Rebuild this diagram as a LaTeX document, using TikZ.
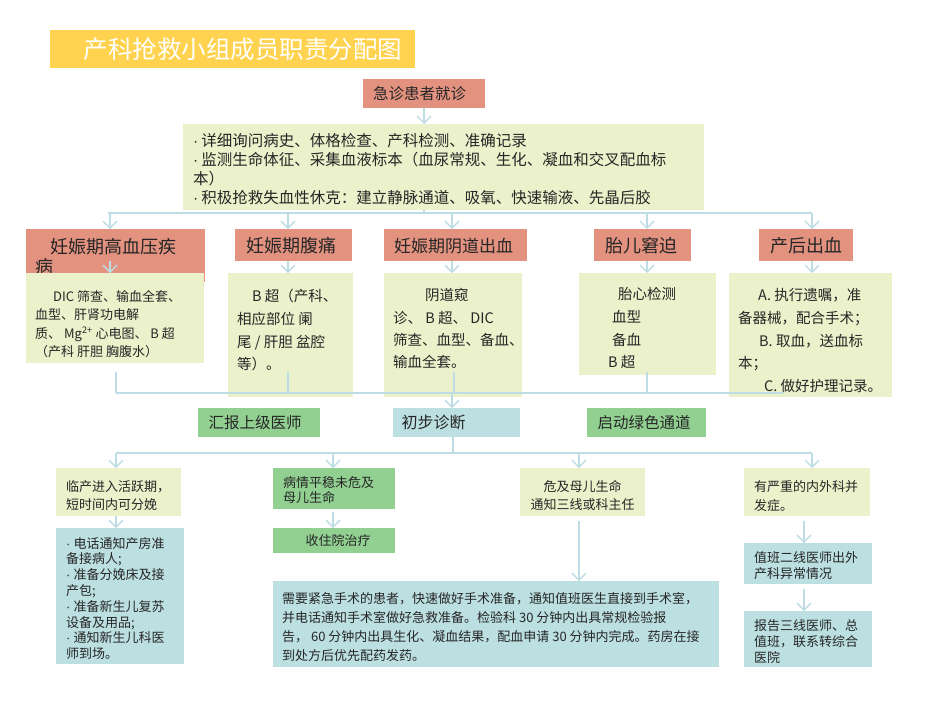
\documentclass[tikz,border=0pt]{standalone}
\usepackage{fontspec}
\setmainfont{Noto Sans CJK SC}
\newfontfamily\latinf{Liberation Sans}
\newcommand{\bul}{{\latinf ·}\hspace{3pt}}
\usetikzlibrary{arrows.meta}
\definecolor{salmonC}{RGB}{227,146,128}
\definecolor{gyC}{RGB}{235,241,202}
\definecolor{grC}{RGB}{146,208,146}
\definecolor{lbC}{RGB}{188,223,226}
\definecolor{lineC}{RGB}{190,220,227}
\definecolor{titleC}{RGB}{255,211,79}
\definecolor{txtC}{RGB}{38,38,38}
\begin{document}
\begin{tikzpicture}[x=1pt,y=-1pt,
  bx/.style={anchor=north west, inner sep=0pt, outer sep=0pt, draw=none},
  salm/.style={bx, fill=salmonC},
  gy/.style={bx, fill=gyC},
  gr/.style={bx, fill=grC},
  lb/.style={bx, fill=lbC},
  tx/.style={anchor=north west, inner sep=0pt, align=left, text=txtC},
  ctx/.style={anchor=center, inner sep=0pt, text=txtC},
  conn/.style={draw=lineC, line width=1.3pt},
  arr/.style={conn, -{Straight Barb[length=7pt,width=14pt,line width=1.3pt]}}
]
\useasboundingbox[fill=white] (0,0) rectangle (950,713);

% title
\node[bx, fill=titleC, minimum width=365pt, minimum height=38pt] (title) at (50,30) {};
\node[ctx, text=white, font=\fontsize{24.5}{28}\selectfont] (titlet) at (243,49) {产科抢救小组成员职责分配图};

% emergency
\node[salm, minimum width=122pt, minimum height=29pt] (er) at (363,79) {};
\node[ctx, font=\fontsize{15.5}{18}\selectfont] (ert) at (419.5,94) {急诊患者就诊};

% top instructions
\node[gy, minimum width=521pt, minimum height=86pt] (top) at (183,124) {};
\node[tx, font=\fontsize{15.5}{19.3}\selectfont] (topt) at (193,132.7) {%
\bul 详细询问病史、体格检查、产科检测、准确记录\\
\bul 监测生命体征、采集血液标本（血尿常规、生化、凝血和交叉配血标\\
本）\\
\bul 积极抢救失血性休克：建立静脉通道、吸氧、快速输液、先晶后胶};

% categories
\node[salm, minimum width=179pt, minimum height=53pt] (cat1) at (26,229) {};
\node[tx, font=\fontsize{18}{19.5}\selectfont] (cat1t) at (35,238.5) {\hspace*{15pt}妊娠期高血压疾\\病};
\node[salm, minimum width=117pt, minimum height=32pt] (cat2) at (235,229) {};
\node[ctx, font=\fontsize{18}{21}\selectfont] (cat2t) at (291,246) {妊娠期腹痛};
\node[salm, minimum width=143pt, minimum height=32pt] (cat3) at (384,229) {};
\node[ctx, font=\fontsize{17}{20}\selectfont] (cat3t) at (453.5,246) {妊娠期阴道出血};
\node[salm, minimum width=97pt, minimum height=32pt] (cat4) at (594,229) {};
\node[ctx, font=\fontsize{18}{21}\selectfont] (cat4t) at (641,246) {胎儿窘迫};
\node[salm, minimum width=94pt, minimum height=32pt] (cat5) at (759,229) {};
\node[ctx, font=\fontsize{18}{21}\selectfont] (cat5t) at (806,246) {产后出血};

% details
\node[gy, minimum width=178pt, minimum height=90pt] (det1) at (26,273) {};
\node[tx, font=\fontsize{13}{18.5}\selectfont] (det1t) at (35,289.8) {%
\hspace*{18pt}DIC 筛查、输血全套、\\
血型、肝肾功电解\\
质、 Mg\textsuperscript{2+} 心电图、 B 超\\
（产科 肝胆 胸腹水）};
\node[gy, minimum width=125pt, minimum height=124pt] (det2) at (228,273) {};
\node[tx, font=\fontsize{14.5}{22.6}\selectfont] (det2t) at (237,289.2) {%
\hspace*{15pt}B 超（产科、\\
相应部位 阑\\
尾 / 肝胆 盆腔\\
等）。};
\node[gy, minimum width=138pt, minimum height=124pt] (det3) at (384,273) {};
\node[tx, font=\fontsize{14.5}{22.4}\selectfont] (det3t) at (393,288.2) {%
\hspace*{32pt}阴道窥\\
诊、 B 超、 DIC\\
筛查、血型、备血、\\
输血全套。};
\node[gy, minimum width=137pt, minimum height=102pt] (det4) at (579,273) {};
\node[tx, font=\fontsize{14.5}{22.7}\selectfont] (det4t) at (608,287.2) {%
\hspace*{10pt}胎心检测\\
\hspace*{4pt}血型\\
\hspace*{4pt}备血\\
B 超};
\node[gy, minimum width=163pt, minimum height=124pt] (det5) at (729,273) {};
\node[tx, font=\fontsize{14.5}{22.7}\selectfont] (det5t) at (738,288.2) {%
\hspace*{20pt}A. 执行遗嘱，准\\
备器械，配合手术；\\
\hspace*{21pt}B. 取血，送血标\\
本；\\
\hspace*{26pt}C. 做好护理记录。};

% middle row
\node[gr, minimum width=122pt, minimum height=29pt] (hb) at (198,408) {};
\node[ctx, font=\fontsize{15.5}{18}\selectfont] (hbt) at (255,422.5) {汇报上级医师};
\node[lb, minimum width=127pt, minimum height=29pt] (cb) at (393,408) {};
\node[ctx, font=\fontsize{16}{19}\selectfont] (cbt) at (433.5,422.5) {初步诊断};
\node[gr, minimum width=119pt, minimum height=29pt] (qd) at (587,408) {};
\node[ctx, font=\fontsize{15.5}{18}\selectfont] (qdt) at (644,422.5) {启动绿色通道};

% row 3
\node[gy, minimum width=125pt, minimum height=48pt] (r1) at (56,468) {};
\node[tx, font=\fontsize{13}{18}\selectfont] (r1t) at (66,479.9) {临产进入活跃期，\\短时间内可分娩};
\node[gr, minimum width=122pt, minimum height=41pt] (r2) at (273,468) {};
\node[tx, font=\fontsize{13}{15.5}\selectfont] (r2t) at (283,475.9) {病情平稳未危及\\母儿生命};
\node[gy, minimum width=125pt, minimum height=48pt] (r3) at (520,468) {};
\node[anchor=north, inner sep=0pt, align=center, text=txtC, font=\fontsize{13}{18}\selectfont] (r3t) at (582.5,479.9) {危及母儿生命\\通知三线或科主任};
\node[gy, minimum width=126pt, minimum height=48pt] (r4) at (744,468) {};
\node[tx, font=\fontsize{13}{19}\selectfont] (r4t) at (754,479.9) {有严重的内外科并\\发症。};

% row 4
\node[lb, minimum width=128pt, minimum height=136pt] (s1) at (56,528) {};
\node[tx, font=\fontsize{13}{15.8}\selectfont] (s1t) at (66,536.9) {%
\bul 电话通知产房准\\
备接病人;\\
\bul 准备分娩床及接\\
产包;\\
\bul 准备新生儿复苏\\
设备及用品;\\
\bul 通知新生儿科医\\
师到场。};
\node[gr, minimum width=122pt, minimum height=25pt] (s2) at (273,528) {};
\node[ctx, font=\fontsize{13}{16}\selectfont] (s2t) at (338,541) {收住院治疗};
\node[lb, minimum width=128pt, minimum height=41pt] (s3) at (744,543) {};
\node[tx, font=\fontsize{13}{16}\selectfont] (s3t) at (754,550.9) {值班二线医师出外\\产科异常情况};
\node[lb, minimum width=446pt, minimum height=86pt] (s4) at (273,581) {};
\node[tx, font=\fontsize{13}{19}\selectfont] (s4t) at (282,591.9) {%
需要紧急手术的患者，快速做好手术准备，通知值班医生直接到手术室，\\
并电话通知手术室做好急救准备。检验科 30 分钟内出具常规检验报\\
告， 60 分钟内出具生化、凝血结果，配血申请 30 分钟内完成。药房在接\\
到处方后优先配药发药。};
\node[lb, minimum width=128pt, minimum height=56pt] (s5) at (744,611) {};
\node[tx, font=\fontsize{13}{16}\selectfont] (s5t) at (754,618.9) {报告三线医师、总\\值班，联系转综合\\医院};

% ---- connectors ----
\coordinate (busL) at (108,213);
\coordinate (busR) at (812,213);
\coordinate (k1) at (110,213);
\coordinate (k2) at (288,213);
\coordinate (k3) at (452,213);
\coordinate (k4) at (647,213);
\coordinate (k5) at (812,213);
\draw[arr] (er.south) -- (er.south |- top.north);
\draw[conn] (er.south |- top.south) -- (er.south |- busL);
\draw[conn] (busL) -- (busR);
\draw[arr] (k1) -- (k1 |- cat1.north);
\draw[arr] (k2) -- (k2 |- cat2.north);
\draw[arr] (k3) -- (k3 |- cat3.north);
\draw[arr] (k4) -- (k4 |- cat4.north);
\draw[arr] (k5) -- (k5 |- cat5.north);
\draw[arr] (k1 |- cat2.south) -- (k1 |- det1.north);
\draw[arr] (k2 |- cat2.south) -- (k2 |- det2.north);
\draw[arr] (k3 |- cat3.south) -- (k3 |- det3.north);
\draw[arr] (k4 |- cat4.south) -- (k4 |- det4.north);
\draw[arr] (k5 |- cat5.south) -- (k5 |- det5.north);

\coordinate (m1) at (116,393);
\coordinate (mE) at (783,393);
\coordinate (v1) at (116,372);
\coordinate (v2) at (288,372);
\coordinate (v3) at (454,372);
\coordinate (v4) at (647,372);
\coordinate (d3) at (452,393);
\draw[conn] (v1) -- (v1 |- m1);
\draw[conn] (v2) -- (v2 |- m1);
\draw[conn] (v3) -- (v3 |- m1);
\draw[conn] (v4) -- (v4 |- m1);
\draw[conn] (m1) -- (mE);
\draw[arr] (d3) -- (d3 |- cb.north);

\coordinate (n0) at (453,453);
\coordinate (n1) at (116,453);
\coordinate (n2) at (333,453);
\coordinate (n3) at (579,453);
\coordinate (n4) at (812,453);
\coordinate (p) at (804,453);
\draw[conn] (n0 |- cb.south) -- (n0);
\draw[conn] (n1) -- (n4);
\draw[arr] (n1) -- (n1 |- r1.north);
\draw[arr] (n2) -- (n2 |- r2.north);
\draw[arr] (n3) -- (n3 |- r3.north);
\draw[arr] (n4) -- (n4 |- r4.north);
\draw[arr] (n1 |- r1.south) -- (n1 |- s1.north);
\draw[arr, shorten <=3pt] (n2 |- r2.south) -- (n2 |- s2.north);
\draw[arr, shorten <=5pt] (n3 |- r3.south) -- (n3 |- s4.north);
\draw[arr, shorten <=5pt] (p |- r4.south) -- (p |- s3.north);
\draw[arr, shorten <=5pt] (p |- s3.south) -- (p |- s5.north);
\end{tikzpicture}
\end{document}
